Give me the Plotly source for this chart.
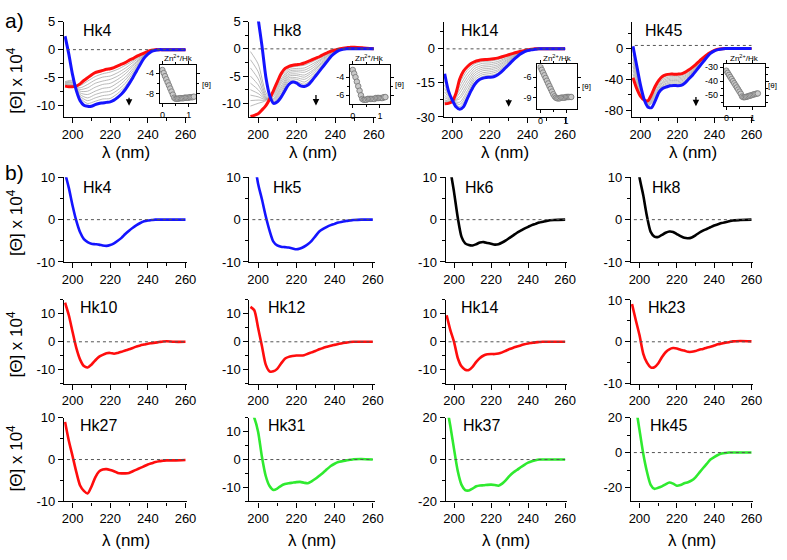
import plotly.graph_objects as go

W, H = 787, 560
FONT = "Arial, Liberation Sans, sans-serif"

# wavelength grids (nm)
WL = [196, 198, 200, 202, 204, 206, 208, 210, 212, 214, 216, 218, 220, 222, 224,
      226, 228, 230, 232, 234, 236, 238, 240, 242, 244, 246, 248, 250, 254, 260]
WL_MID = [196, 200, 204, 208, 212, 216, 220, 224, 228, 232, 236, 240, 244, 248, 260]
ZN_HK = [0, 0.05, 0.1, 0.15, 0.2, 0.25, 0.3, 0.35, 0.4, 0.45, 0.5, 0.55, 0.6,
         0.65, 0.7, 0.75, 0.8, 0.85, 0.9, 0.95, 1.0, 1.05, 1.1, 1.15, 1.2]

# ---- a) Zn titrations: red = start, blue = end, gray = intermediate
HK4_A_START = [-6.5, -6.6, -6.6, -6.5, -6.1, -5.5, -5.0, -4.5, -4.1, -3.9, -3.7, -3.5, -3.4, -3.2, -2.9,
               -2.6, -2.3, -1.9, -1.6, -1.2, -0.9, -0.6, -0.3, -0.1, 0, 0, 0, 0, 0, 0]
HK4_A_END = [2.4, -0.8, -4.5, -7.3, -9.1, -9.9, -10.1, -10.1, -9.8, -9.6, -9.5, -9.4, -9.3, -9.0, -8.5,
             -7.9, -7.1, -6.1, -5.0, -3.8, -2.6, -1.5, -0.8, -0.3, -0.1, 0, 0, 0, 0, 0]
HK4_A_MID = [
    [-6.4, -6.5, -6.4, -5.6, -4.8, -4.3, -4.0, -3.5, -2.8, -2.0, -1.1, -0.4, 0, 0, 0],
    [-6.3, -6.4, -6.8, -6.2, -5.4, -4.9, -4.7, -4.1, -3.3, -2.3, -1.3, -0.4, 0, 0, 0],
    [-6.2, -6.3, -7.1, -6.8, -6.0, -5.6, -5.3, -4.7, -3.8, -2.7, -1.5, -0.5, 0, 0, 0],
    [-6.1, -6.2, -7.4, -7.4, -6.7, -6.2, -6.0, -5.3, -4.3, -3.0, -1.6, -0.5, 0, 0, 0],
    [-6.0, -6.0, -7.7, -8.0, -7.4, -6.9, -6.7, -5.9, -4.9, -3.4, -1.8, -0.6, 0, 0, 0],
    [-5.9, -5.9, -8.0, -8.6, -8.0, -7.6, -7.4, -6.6, -5.4, -3.8, -2.0, -0.6, 0, 0, 0],
    [-5.8, -5.7, -8.3, -9.1, -8.6, -8.2, -8.0, -7.2, -6.0, -4.2, -2.2, -0.7, 0, 0, 0],
    [-5.7, -5.5, -8.6, -9.6, -9.2, -8.8, -8.7, -7.8, -6.5, -4.6, -2.4, -0.7, 0, 0, 0],
]
HK4_A_INSET = [-3.4, -4.0, -4.6, -5.2, -5.8, -6.4, -7.0, -7.6, -8.2, -8.8, -9.0, -9.0, -9.0,
               -8.9, -8.9, -8.9, -8.9, -8.8, -8.8, -8.8, -8.8, -8.7, -8.7, -8.7, -8.6]

HK8_A_START = [-12.4, -12.2, -11.9, -11.2, -10.4, -9.2, -7.6, -6.0, -4.5, -3.6, -3.2, -3.0, -2.9, -2.8, -2.6,
               -2.3, -2.0, -1.7, -1.4, -1.0, -0.7, -0.4, -0.2, 0, 0.1, 0.2, 0.3, 0.3, 0.2, 0]
HK8_A_END = [16, 11, 5.5, 0.5, -5.2, -8.6, -10.0, -9.7, -8.8, -7.6, -6.5, -6.1, -6.3, -6.8, -6.9,
             -6.6, -5.8, -4.9, -4.0, -3.1, -2.2, -1.3, -0.7, -0.3, -0.1, 0, 0, 0, 0, 0]
HK8_A_MID = [
    [-10.5, -10.0, -9.5, -7.9, -5.0, -3.5, -3.2, -3.0, -2.4, -1.7, -0.9, -0.3, 0.1, 0.2, 0],
    [-9.5, -9.4, -9.4, -8.2, -5.5, -3.8, -3.6, -3.5, -2.8, -2.0, -1.0, -0.3, 0.1, 0.2, 0],
    [-8.5, -8.8, -9.3, -8.5, -5.9, -4.1, -3.9, -3.9, -3.2, -2.2, -1.2, -0.4, 0, 0.1, 0],
    [-7.5, -8.2, -9.2, -8.8, -6.3, -4.4, -4.2, -4.3, -3.6, -2.5, -1.3, -0.4, 0, 0.1, 0],
    [-6.3, -7.5, -9.1, -9.1, -6.8, -4.7, -4.6, -4.8, -4.0, -2.8, -1.5, -0.5, 0, 0.1, 0],
    [-5.0, -6.6, -9.0, -9.3, -7.2, -5.0, -4.9, -5.2, -4.3, -3.0, -1.7, -0.5, 0, 0, 0],
    [-3.5, -5.5, -8.8, -9.5, -7.6, -5.3, -5.3, -5.6, -4.7, -3.3, -1.8, -0.6, 0, 0, 0],
    [-2.0, -4.2, -8.5, -9.7, -8.0, -5.6, -5.6, -6.1, -5.1, -3.6, -2.0, -0.6, 0, 0, 0],
    [-0.5, -2.8, -8.0, -9.8, -8.4, -5.9, -6.0, -6.5, -5.5, -3.8, -2.1, -0.7, -0.1, 0, 0],
]
HK8_A_INSET = [-3.2, -3.6, -4.0, -4.5, -5.0, -5.5, -6.0, -6.4, -6.5, -6.5, -6.5, -6.4, -6.4,
               -6.4, -6.4, -6.4, -6.4, -6.3, -6.3, -6.3, -6.3, -6.3, -6.3, -6.2, -6.2]

HK14_A_START = [-24.2, -24.0, -23.2, -19.5, -13.3, -9.8, -7.9, -6.5, -5.6, -5.1, -4.8, -4.7, -4.6, -4.4, -4.1,
                -3.6, -3.1, -2.6, -2.1, -1.6, -1.2, -0.8, -0.4, -0.2, 0, 0, 0, 0, 0, 0]
HK14_A_END = [-11, -18.5, -22.5, -25.5, -26.6, -25.5, -22.0, -18.5, -15.6, -13.8, -13.0, -12.6, -12.5, -12.3, -11.5,
              -10.2, -8.6, -7.0, -5.3, -3.8, -2.4, -1.4, -0.8, -0.4, -0.2, 0, 0, 0, 0, 0]
HK14_A_MID = [
    [-23.5, -23.1, -15.0, -9.5, -6.6, -5.6, -5.4, -4.8, -3.6, -2.4, -1.3, -0.4, 0, 0, 0],
    [-23.0, -23.0, -16.5, -11.0, -7.6, -6.4, -6.2, -5.6, -4.2, -2.7, -1.4, -0.5, 0, 0, 0],
    [-22.5, -23.0, -18.0, -12.5, -8.6, -7.3, -7.0, -6.3, -4.7, -3.0, -1.6, -0.5, -0.1, 0, 0],
    [-21.5, -22.9, -19.5, -14.0, -9.6, -8.1, -7.8, -7.1, -5.3, -3.4, -1.7, -0.6, -0.1, 0, 0],
    [-20.5, -22.9, -21.0, -15.5, -10.6, -8.9, -8.6, -7.8, -5.8, -3.7, -1.8, -0.6, -0.1, 0, 0],
    [-19.0, -22.8, -22.0, -17.0, -11.6, -9.7, -9.3, -8.5, -6.4, -4.0, -1.9, -0.7, -0.1, 0, 0],
    [-17.5, -22.7, -23.5, -18.5, -12.6, -10.6, -10.1, -9.3, -6.9, -4.3, -2.0, -0.7, -0.2, 0, 0],
    [-16.0, -22.7, -24.5, -19.8, -13.6, -11.4, -10.9, -10.0, -7.5, -4.6, -2.2, -0.8, -0.2, 0, 0],
    [-14.0, -22.6, -25.5, -21.0, -14.6, -12.2, -11.7, -10.8, -8.0, -5.0, -2.3, -0.8, -0.2, 0, 0],
]
HK14_A_INSET = [-4.5, -4.9, -5.3, -5.7, -6.1, -6.5, -6.9, -7.3, -7.7, -8.1, -8.5, -8.8, -9.0,
                -9.1, -9.1, -9.1, -9.0, -9.0, -9.0, -9.0, -8.9, -8.9, -8.9, -8.9, -8.9]

HK45_A_START = [-38, -52, -62, -67, -68, -60, -49, -41, -36, -34, -33.3, -33.3, -33.3, -33, -31,
                -28, -24.5, -20.5, -16, -12, -8, -5, -2.5, -1, -0.3, 0, 0, 0, 0, 0]
HK45_A_END = [3, -22, -47, -66, -76, -77, -68, -57, -52, -50, -48.5, -48, -48.3, -48, -45,
              -40, -35, -29, -23, -17, -11, -6, -3, -1.5, -0.5, 0, 0, 0, 0, 0]
HK45_A_MID = [
    [-33, -60, -69, -51, -38, -35, -35, -32.5, -25.7, -16.8, -8.3, -2.6, -0.3, 0, 0],
    [-28, -58, -70, -53, -40, -36.7, -36.6, -34, -26.8, -17.5, -8.7, -2.6, -0.3, 0, 0],
    [-23, -56, -71, -55.5, -42, -38.4, -38.3, -35.7, -28, -18.3, -9, -2.7, -0.4, 0, 0],
    [-18, -54, -72, -57.5, -44, -40, -40, -37.2, -29.2, -19.1, -9.3, -2.7, -0.4, 0, 0],
    [-13, -53, -73, -59.5, -45.5, -41.7, -41.6, -38.8, -30.3, -19.9, -9.7, -2.8, -0.4, 0, 0],
    [-8, -51, -74, -61.5, -47.5, -43.4, -43.3, -40.3, -31.5, -20.7, -10, -2.8, -0.4, 0, 0],
    [-3, -50, -74.5, -63.5, -49, -45, -45, -42, -32.7, -21.5, -10.3, -2.9, -0.5, 0, 0],
    [0, -48, -75, -65.5, -50.5, -46.7, -46.6, -43.5, -33.8, -22.2, -10.7, -2.9, -0.5, 0, 0],
]
HK45_A_INSET = [-32.5, -34, -35.5, -37, -38.5, -40, -41.5, -43, -44.5, -46, -47.5, -49, -51,
                -51.5, -51.5, -51.3, -51, -50.7, -50.4, -50.1, -49.8, -49.5, -49.2, -49, -48.8]

# ---- b) single spectra
HK4_B = [11, 7.5, 3.3, -0.3, -3.0, -4.6, -5.3, -5.7, -5.8, -5.9, -6.1, -6.2, -6.0, -5.6, -5.0,
         -4.3, -3.4, -2.6, -1.9, -1.3, -0.8, -0.4, -0.2, -0.1, 0, 0, 0, 0, 0, 0]
HK5_B = [20, 14, 8.5, 4.8, 0.8, -2.6, -5.2, -6.1, -6.4, -6.5, -6.6, -6.8, -7.0, -6.8, -6.4,
         -5.8, -5.0, -3.9, -2.8, -2.2, -1.7, -1.3, -1.0, -0.7, -0.5, -0.3, -0.2, -0.1, 0, 0]
HK6_B = [22, 12, 6.5, 0.5, -4.0, -5.6, -6.0, -6.1, -5.8, -5.4, -5.3, -5.5, -5.7, -5.9, -5.8,
         -5.4, -4.9, -4.3, -3.7, -3.1, -2.6, -2.1, -1.7, -1.3, -1.0, -0.7, -0.5, -0.3, -0.1, 0]
HK8_B = [26, 17, 10, 5.8, 0.8, -2.9, -4.0, -4.1, -3.6, -3.1, -2.8, -2.9, -3.4, -3.9, -4.3,
         -4.4, -4.2, -3.7, -3.1, -2.6, -2.2, -1.8, -1.4, -1.1, -0.8, -0.6, -0.4, -0.2, -0.1, 0]
HK10_B = [14, 9.5, 3.5, -2.3, -6.4, -8.7, -9.2, -8.2, -6.7, -5.4, -4.7, -4.1, -4.0, -4.3, -4.0,
          -3.6, -3.1, -2.7, -2.2, -1.7, -1.3, -1.0, -0.7, -0.5, -0.3, -0.1, 0.1, 0.2, 0, 0]
HK12_B = [12.5, 11.3, 5.0, -1.5, -8.2, -10.6, -10.6, -9.7, -7.8, -6.1, -5.4, -5.1, -4.9, -4.9, -4.8,
          -4.3, -3.8, -3.3, -2.7, -2.2, -1.8, -1.4, -1.1, -0.8, -0.5, -0.3, -0.1, 0, 0, 0]
HK14_B = [9.5, 4.2, 0, -5.8, -8.8, -10.0, -10.1, -9.0, -7.2, -5.8, -4.9, -4.5, -4.4, -4.4, -4.2,
          -3.8, -3.2, -2.6, -2.1, -1.7, -1.3, -0.9, -0.6, -0.4, -0.2, -0.1, 0, 0, 0, 0]
HK23_B = [9, 5.2, 1.6, -2.8, -5.0, -6.1, -6.1, -5.2, -3.7, -2.5, -1.8, -1.5, -1.6, -1.9, -2.1,
          -2.4, -2.4, -2.2, -1.9, -1.7, -1.4, -1.2, -0.9, -0.6, -0.4, -0.2, -0.1, 0.1, 0.2, 0.1]
HK27_B = [9.0, 4.5, 0.8, -3.0, -6.2, -7.5, -8.1, -6.5, -4.3, -2.9, -2.4, -2.3, -2.5, -2.8, -3.2,
          -3.3, -3.3, -3.2, -2.8, -2.4, -2.0, -1.6, -1.2, -0.9, -0.6, -0.4, -0.3, -0.2, -0.2, -0.1]
HK31_B = [18, 15, 10, 1.0, -5.9, -9.5, -10.9, -10.4, -9.4, -8.8, -8.5, -8.3, -8.1, -8.0, -8.3,
          -8.5, -7.8, -6.9, -5.8, -4.7, -3.5, -2.3, -1.5, -0.9, -0.6, -0.3, -0.1, 0.1, 0.2, 0]
HK37_B = [26, 16, 5, -5.5, -12, -14.6, -14.8, -13.9, -12.8, -12.4, -12.3, -12.1, -12.0, -12.2, -12.5,
          -11.5, -9.8, -7.8, -6.2, -5.0, -3.7, -2.5, -1.5, -0.8, -0.3, 0, 0, 0, 0, 0]
HK45_B = [34, 26, 13, -0.5, -11, -18.5, -20.8, -20.2, -19.4, -18.2, -17.2, -17.8, -19.0, -18.6, -17.6,
          -17.0, -16.0, -14.2, -11.6, -9.0, -6.5, -4.0, -2.6, -1.4, -0.6, -0.2, 0, 0, 0, 0]

BLUE = "#1414ff"
RED = "#ff0d0d"
GREEN = "#2fea2f"
BLACK = "#000000"
GRAY = "#a8a8a8"

XRANGE = [195.5, 261]

fig = go.Figure()
lay = dict(width=W, height=H, margin=dict(l=0, r=0, t=0, b=0),
           plot_bgcolor="white", paper_bgcolor="white", showlegend=False)
shapes = []
notes = []
count = [0]


def fmt(v):
    return str(int(v)) if float(v).is_integer() else str(v)


def new_axes(box, xrange, xt, xminor, yrange, yt, yminor, inset=False):
    count[0] += 1
    s = "" if count[0] == 1 else str(count[0])
    left, right, top, bottom = box
    fs = 9 if inset else 13
    common = dict(showline=True, linecolor="black", linewidth=1.0 if inset else 1.4,
                  ticks="outside", ticklen=3 if inset else 5, tickwidth=1.0 if inset else 1.3,
                  tickcolor="black", showgrid=False, zeroline=False, fixedrange=True,
                  tickfont=dict(family=FONT, size=fs, color="black"),
                  mirror="ticks" if inset else False)
    minor = dict(ticks="outside", ticklen=2 if inset else 3, tickwidth=1.0, tickcolor="black", showgrid=False)
    lay["xaxis" + s] = dict(common, domain=[left / W, right / W], anchor="y" + s, range=xrange,
                            tickmode="array", tickvals=xt, ticktext=[fmt(v) for v in xt],
                            minor=dict(minor, tickvals=xminor))
    lay["yaxis" + s] = dict(common, domain=[1 - bottom / H, 1 - top / H], anchor="x" + s, range=yrange,
                            tickmode="array", tickvals=yt, ticktext=[fmt(v) for v in yt],
                            minor=dict(minor, tickvals=yminor))
    return "x" + s, "y" + s


def line(xr, yr, x, y, color, width):
    fig.add_trace(go.Scatter(x=x, y=y, xaxis=xr, yaxis=yr, mode="lines", hoverinfo="skip",
                             line=dict(color=color, width=width, shape="spline", smoothing=0.7)))


def zero_line(xr, yr, level=0):
    shapes.append(dict(type="line", xref=xr, yref=yr, x0=197, x1=260, y0=level, y1=level,
                       line=dict(color="#555555", width=1, dash="dot")))


def label(text, px, py, size=16, anchor="left", angle=0):
    notes.append(dict(text=text, x=px / W, y=1 - py / H, xref="paper", yref="paper",
                      xanchor=anchor, yanchor="middle", showarrow=False, textangle=angle,
                      font=dict(family=FONT, size=size, color="black")))


# ---- row a
A_PANELS = [
    ("Hk4", HK4_A_START, HK4_A_END, HK4_A_MID, HK4_A_INSET, 80,
     (63, 188), [-12, 5], [5, 0, -5, -10], [2.5, -2.5, -7.5], 0, (-8.3, -10.0),
     (160, 197, 60, 99), [-0.1, 1.29], [-9.9, -2.5], [-4, -8], [-6]),
    ("Hk8", HK8_A_START, HK8_A_END, HK8_A_MID, HK8_A_INSET, 273,
     (251, 379), [-12.5, 5], [5, 0, -5, -10], [2.5, -2.5, -7.5], 0, (-8.2, -10.4),
     (353, 393, 60, 100), [-0.1, 1.35], [-7, -2.7], [-4, -6], [-5]),
    ("Hk14", HK14_A_START, HK14_A_END, HK14_A_MID, HK14_A_INSET, 463,
     (448, 573), [-30, 12], [0, -15, -30], [7.5, -7.5, -22.5], 0, (-21.5, -25.5),
     (543, 583, 59, 105), [-0.12, 1.42], [-10.7, -4.1], [-6, -9], [-7.5]),
    ("Hk45", HK45_A_START, HK45_A_END, HK45_A_MID, HK45_A_INSET, 650,
     (639, 762), [-89, 35], [0, -40, -80], [20, -20, -60], 4, (-61, -75),
     (732, 774, 59, 102), [-0.1, 1.48], [-58, -28], [-30, -40, -50], [-35, -45, -55]),
]

for (name, start, end, mids, inset, title_x, xs, yrange, yt, ym, zlev, arrow,
     ibox, ixr, iyr, iyt, iym) in A_PANELS:
    xr, yr = new_axes((xs[0], xs[1], 15, 113), XRANGE, [200, 220, 240, 260], [210, 230, 250],
                      yrange, yt, ym)
    zero_line(xr, yr, zlev)
    for m in mids:
        line(xr, yr, WL_MID, m, GRAY, 0.8)
    line(xr, yr, WL, start, RED, 3)
    line(xr, yr, WL, end, BLUE, 3)
    notes.append(dict(x=230, y=arrow[1], ax=230, ay=arrow[0], xref=xr, yref=yr, axref=xr, ayref=yr,
                      text="", showarrow=True, arrowhead=2, arrowsize=1, arrowwidth=1.3,
                      arrowcolor="black"))
    label(name, title_x, 24)
    label("λ (nm)", (xs[0] + xs[1]) / 2, 149, 17, "center")
    # inset with the Zn/Hk titration
    ixa, iya = new_axes(ibox, ixr, [0, 1], [0.5], iyr, iyt, iym, inset=True)
    fig.add_trace(go.Scatter(x=ZN_HK, y=inset, xaxis=ixa, yaxis=iya, mode="markers", hoverinfo="skip",
                             marker=dict(size=5.5, color="#c9c9c9", line=dict(color="#7c7c7c", width=0.9))))
    label("Zn<sup>2+</sup>/Hk", (ibox[0] + ibox[1]) / 2, 52, 8, "center")
    label("[θ]", min(ibox[1] + 10, 781), (ibox[2] + ibox[3]) / 2, 8, "center")

# ---- row b
B_PANELS = [
    ("Hk4", HK4_B, BLUE, 0, 0, 80, [-10, 10], [10, 0, -10], [5, -5]),
    ("Hk5", HK5_B, BLUE, 0, 1, 273, [-10, 10], [10, 0, -10], [5, -5]),
    ("Hk6", HK6_B, BLACK, 0, 2, 468, [-10, 10], [10, 0, -10], [5, -5]),
    ("Hk8", HK8_B, BLACK, 0, 3, 657, [-10, 10], [10, 0, -10], [5, -5]),
    ("Hk10", HK10_B, RED, 1, 0, 77, [-15, 15], [10, 0, -10], [15, 5, -5, -15]),
    ("Hk12", HK12_B, RED, 1, 1, 268, [-15, 15], [10, 0, -10], [15, 5, -5, -15]),
    ("Hk14", HK14_B, RED, 1, 2, 463, [-15, 15], [10, 0, -10], [15, 5, -5, -15]),
    ("Hk23", HK23_B, RED, 1, 3, 653, [-10, 10], [10, 0, -10], [5, -5]),
    ("Hk27", HK27_B, RED, 2, 0, 77, [-10, 10], [10, 0, -10], [5, -5]),
    ("Hk31", HK31_B, GREEN, 2, 1, 268, [-15, 15], [10, 0, -10], [15, 5, -5, -15]),
    ("Hk37", HK37_B, GREEN, 2, 2, 465, [-20, 20], [20, 0, -20], [10, -10]),
    ("Hk45", HK45_B, GREEN, 2, 3, 655, [-28, 20], [20, 0, -20], [10, -10]),
]
B_COLS = [(63, 188), (251, 378), (450, 573), (638, 762)]
B_ROWS = [(175, 262), (301, 387), (422, 508)]
B_TITLE_Y = [185, 309, 430]

for name, vals, color, r, c, title_x, yrange, yt, ym in B_PANELS:
    x0, x1 = B_COLS[c]
    y0, y1 = B_ROWS[r]
    xr, yr = new_axes((x0, x1, y0, y1), XRANGE, [200, 220, 240, 260], [210, 230, 250], yrange, yt, ym)
    zero_line(xr, yr)
    line(xr, yr, WL, vals, color, 2.6)
    label(name, title_x, B_TITLE_Y[r])
    if r == 2:
        label("λ (nm)", (x0 + x1) / 2, 548, 17, "center")

# y titles and panel letters
for py in [75, 221, 346, 463]:
    label("[Θ] x 10<sup>4</sup>", 13, py, 17, "center", -90)
label("a)", 1, 14, 21)
label("b)", 1, 170, 21)

lay["shapes"] = shapes
lay["annotations"] = notes
fig.update_layout(**lay)
fig.write_html("out.html", config=dict(displayModeBar=False),
               post_script="document.body.style.margin='0';")
